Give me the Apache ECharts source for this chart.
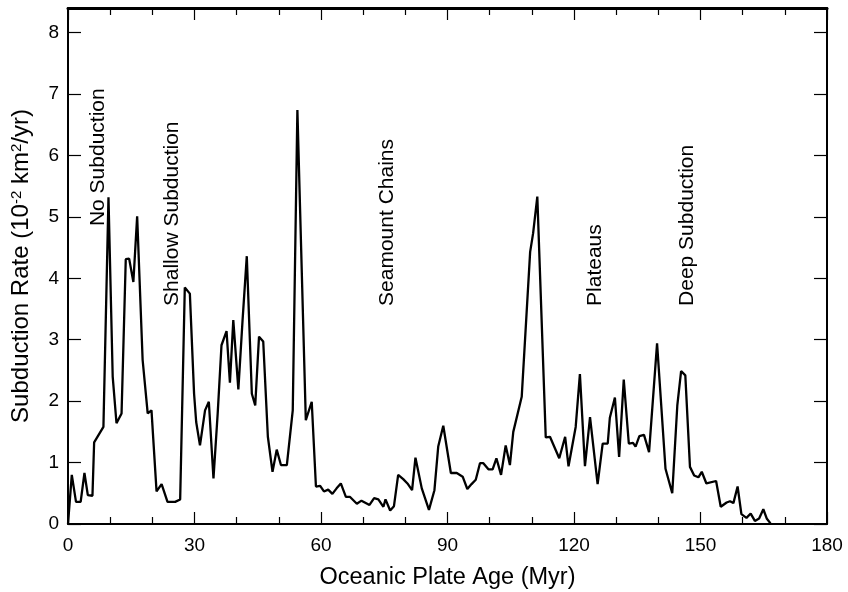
<!DOCTYPE html>
<html>
<head>
<meta charset="utf-8">
<script src="https://cdn.jsdelivr.net/npm/echarts@6/dist/echarts.min.js"></script>
<style>
  html, body { margin: 0; padding: 0; background: #fff; }
  #chart { width: 848px; height: 592px; }
</style>
</head>
<body>
<div id="chart"></div>
<script>
// oceanic plate age (Myr) and subduction rate (10^-2 km^2/yr)
const ages = [0, 0.9, 1.9, 3, 3.9, 4.7, 5.8, 6.2, 8.4, 9.6, 10.6, 11.5, 12.7, 13.7, 14.5, 15.5, 16.4, 17.7, 18.9, 19.8,
  21, 22.2, 23.6, 25.4, 26.6, 27.7, 28.9, 29.9, 30.4, 31.3, 32.5, 33.4, 34.5, 35.5, 36.4, 37.6, 38.4, 39.2, 40.4, 41.4,
  42.4, 43.6, 44.4, 45.3, 46.3, 47.4, 48.5, 49.5, 50.5, 51.9, 53.3, 54.4, 56.4, 57.8, 58.8, 59.8, 60.7, 61.7, 62.7, 63.7,
  64.7, 65.9, 66.9, 68.5, 69.6, 71.5, 72.6, 73.6, 74.8, 75.3, 76.4, 77.3, 78.3, 79.5, 80.5, 81.6, 82.4, 83.9, 85.6, 86.9,
  87.8, 89, 90.8, 92.2, 93.6, 94.7, 95.7, 96.7, 97.7, 98.5, 99.7, 100.7, 101.6, 102.7, 103.8, 104.8, 105.6, 107.6, 109.6, 110.3,
  111.3, 113.3, 114.3, 116.5, 117.9, 118.7, 120.4, 121.4, 122.6, 123.8, 125.6, 126.8, 128, 128.5, 129.7, 130.7, 131.8, 133, 134, 134.6,
  135.5, 136.6, 137.8, 139.7, 141.7, 143.3, 144.5, 145.4, 146.4, 147.5, 148.5, 149.5, 150.3, 151.4, 153.7, 154.8, 156.2, 157, 157.8, 158.8,
  159.7, 160.9, 161.9, 162.9, 163.9, 164.9, 165.7, 166.6];
const rates = [0, 0.8, 0.36, 0.36, 0.83, 0.47, 0.46, 1.33, 1.58, 5.32, 2.4, 1.64, 1.8, 4.31, 4.32, 3.94, 5.01, 2.67, 1.8, 1.85,
  0.53, 0.65, 0.36, 0.36, 0.4, 3.85, 3.75, 2.12, 1.66, 1.28, 1.85, 1.99, 0.74, 1.8, 2.91, 3.14, 2.3, 3.32, 2.19, 3.32,
  4.36, 2.12, 1.93, 3.05, 2.97, 1.42, 0.85, 1.21, 0.96, 0.96, 1.85, 6.74, 1.69, 1.99, 0.61, 0.62, 0.53, 0.56, 0.49, 0.58,
  0.66, 0.44, 0.44, 0.33, 0.38, 0.31, 0.42, 0.4, 0.28, 0.4, 0.22, 0.29, 0.8, 0.73, 0.66, 0.55, 1.08, 0.58, 0.23, 0.55,
  1.26, 1.6, 0.83, 0.83, 0.77, 0.57, 0.65, 0.72, 0.99, 0.99, 0.89, 0.89, 1.07, 0.8, 1.28, 0.96, 1.5, 2.07, 4.43, 4.73,
  5.33, 1.41, 1.42, 1.07, 1.42, 0.94, 1.58, 2.44, 0.94, 1.74, 0.65, 1.31, 1.31, 1.73, 2.06, 1.09, 2.35, 1.31, 1.32, 1.26,
  1.43, 1.45, 1.17, 2.94, 0.9, 0.5, 1.93, 2.49, 2.42, 0.93, 0.79, 0.76, 0.85, 0.66, 0.7, 0.28, 0.35, 0.37, 0.34, 0.61,
  0.16, 0.1, 0.17, 0.05, 0.09, 0.24, 0.09, 0.01];

// vertical annotations: anchored at the start (bottom) of the text
const noteTexts = ['No Subduction', 'Shallow Subduction', 'Seamount Chains', 'Plateaus', 'Deep Subduction'];
const noteAges = [7.1, 24.7, 75.6, 125, 146.8];
const noteRates = [4.85, 3.55, 3.55, 3.55, 3.55];

const font = "'Liberation Sans', Arial, Helvetica, sans-serif";

let chart = echarts.init(document.getElementById('chart'));

const lineData = ages.map((a, i) => [a, rates[i]]);
const noteData = noteTexts.map((t, i) => ({ value: [noteAges[i], noteRates[i]], name: t }));

chart.setOption({
  animation: false,
  grid: { left: 68, right: 21, top: 8, bottom: 68, outerBoundsMode: 'none' },
  xAxis: [
    {
      type: 'value',
      min: 0,
      max: 180,
      interval: 30,
      name: 'Oceanic Plate Age (Myr)',
      nameLocation: 'middle',
      nameGap: 42,
      nameTextStyle: { fontFamily: font, fontSize: 23.5, color: '#000' },
      axisLine: { onZero: false, lineStyle: { color: '#000', width: 2 } },
      axisTick: { inside: true, length: 12, lineStyle: { color: '#000', width: 1.2 } },
      minorTick: { show: true, splitNumber: 3, length: 7, lineStyle: { color: '#000', width: 1.2 } },
      axisLabel: { fontFamily: font, fontSize: 19, color: '#000', margin: 12 },
      splitLine: { show: false }
    },
    {
      type: 'value',
      position: 'top',
      min: 0,
      max: 180,
      interval: 30,
      axisLine: { onZero: false, lineStyle: { color: '#000', width: 3 } },
      axisTick: { inside: true, length: 12, lineStyle: { color: '#000', width: 1.2 } },
      minorTick: { show: true, splitNumber: 3, length: 7, lineStyle: { color: '#000', width: 1.2 } },
      axisLabel: { show: false },
      splitLine: { show: false }
    }
  ],
  yAxis: [
    {
      type: 'value',
      min: 0,
      max: 8.4,
      interval: 1,
      name: 'Subduction Rate (10{sup|-2} km{sup|2}/yr)',
      nameLocation: 'middle',
      nameGap: 34,
      nameTextStyle: {
        fontFamily: font, fontSize: 24, color: '#000',
        rich: { sup: { fontFamily: font, fontSize: 15, color: '#000', verticalAlign: 'top', padding: [0, 0, 10, 0] } }
      },
      axisLine: { onZero: false, lineStyle: { color: '#000', width: 2 } },
      axisTick: { inside: true, length: 13, lineStyle: { color: '#000', width: 1.2 } },
      axisLabel: {
        fontFamily: font, fontSize: 19, color: '#000', margin: 9,
        formatter: v => Number.isInteger(v) ? String(v) : ''
      },
      splitLine: { show: false }
    },
    {
      type: 'value',
      position: 'right',
      min: 0,
      max: 8.4,
      interval: 1,
      axisLine: { onZero: false, lineStyle: { color: '#000', width: 2 } },
      axisTick: { inside: true, length: 13, lineStyle: { color: '#000', width: 1.2 } },
      axisLabel: { show: false },
      splitLine: { show: false }
    }
  ],
  series: [
    {
      type: 'line',
      data: lineData,
      showSymbol: false,
      symbol: 'none',
      lineStyle: { color: '#000', width: 2.3 },
      silent: true
    },
    {
      type: 'scatter',
      data: noteData,
      symbolSize: 0,
      silent: true,
      itemStyle: { opacity: 1, color: '#000' },
      label: {
        show: true,
        position: 'inside',
        rotate: 90,
        align: 'left',
        verticalAlign: 'middle',
        formatter: p => p.name,
        fontFamily: font,
        fontSize: 21,
        color: '#000'
      }
    }
  ]
});
</script>
</body>
</html>
